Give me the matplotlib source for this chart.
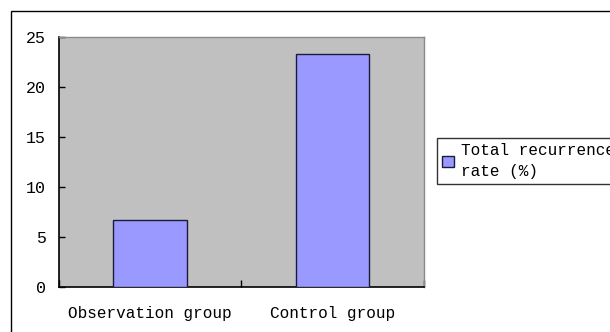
import matplotlib
matplotlib.use("Agg")
import matplotlib.pyplot as plt
from matplotlib.patches import Rectangle

categories = ["Observation group", "Control group"]
recurrence_rate = [6.7, 23.3]
series_label = "Total recurrence\nrate (%)"
y_ticks = [0, 5, 10, 15, 20, 25]

plt.rcParams["font.family"] = ["Liberation Mono", "DejaVu Sans Mono"]

W, H = 610, 332
fig = plt.figure(figsize=(W / 100, H / 100), dpi=100)

# outer chart frame
fig.patches.append(Rectangle((11 / W, -0.2), 1.2, 1 - 11 / H + 0.2,
                             transform=fig.transFigure, fill=False,
                             edgecolor="black", linewidth=1.0))

ax = fig.add_axes([58.7 / W, 1 - 286.7 / H, (424 - 58.7) / W, (286.7 - 36.7) / H])
ax.set_facecolor("#C0C0C0")

x = list(range(len(categories)))
ax.bar(x, recurrence_rate, width=0.40, color="#9999FF",
       edgecolor="#1a1a3a", linewidth=1.0, label=series_label, zorder=3)

ax.set_xlim(-0.5, len(categories) - 0.5)
ax.set_ylim(0, 25)
ax.set_yticks(y_ticks)
ax.set_yticklabels([str(t) for t in y_ticks], fontsize=12)
ax.tick_params(axis="y", direction="in", length=4, width=1, pad=9, colors="black")

ax.set_xticks(x)
ax.set_xticklabels(categories, fontsize=11.5)
ax.tick_params(axis="x", which="major", length=0, pad=14)
ax.set_xticks([-0.5, 0.5, 1.5], minor=True)
ax.tick_params(axis="x", which="minor", direction="in", length=5, width=1)

for side in ("left", "bottom"):
    ax.spines[side].set_color("black")
    ax.spines[side].set_linewidth(1.2)
for side in ("top", "right"):
    ax.spines[side].set_color("#8a8a8a")
    ax.spines[side].set_linewidth(1.0)

leg = ax.legend(loc="upper left", bbox_to_anchor=(437 / W, 1 - 138 / H),
                bbox_transform=fig.transFigure, borderaxespad=0,
                fontsize=11.5, frameon=True, fancybox=False,
                handlelength=0.75, handleheight=0.75, handletextpad=0.45,
                borderpad=0.3, labelspacing=0.2)
for t in leg.get_texts():
    t.set_linespacing(1.55)
leg.get_frame().set_edgecolor("black")
leg.get_frame().set_linewidth(1.0)

fig.savefig("out.png", dpi=100)
